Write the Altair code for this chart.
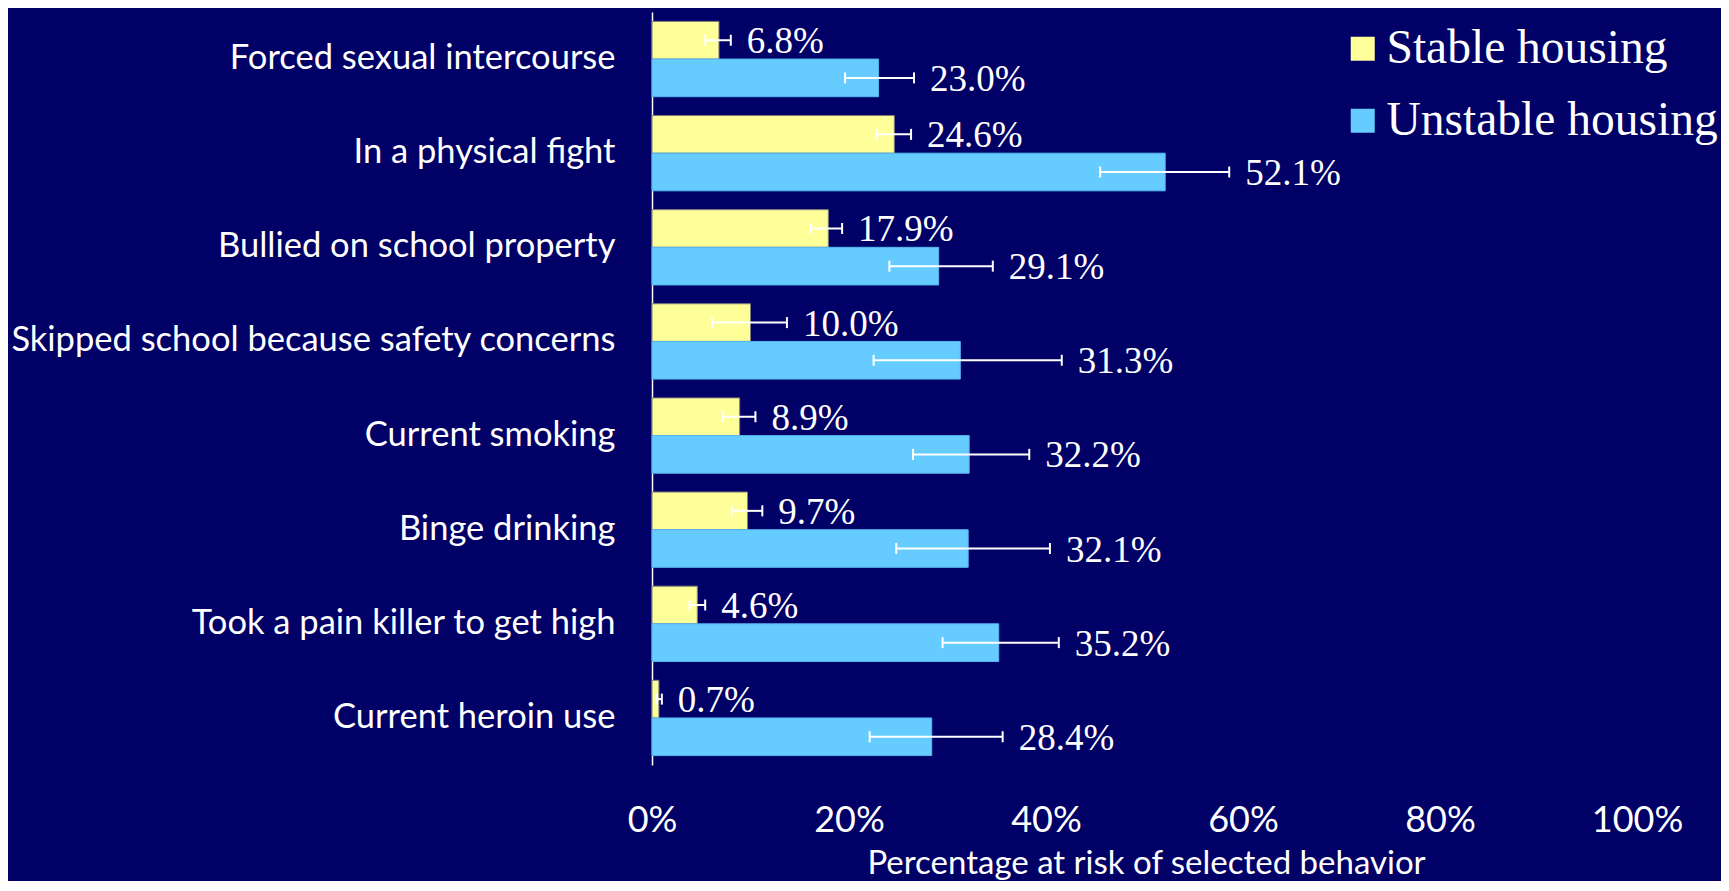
import altair as alt
import pandas as pd

categories = [
    "Forced sexual intercourse",
    "In a physical fight",
    "Bullied on school property",
    "Skipped school because safety concerns",
    "Current smoking",
    "Binge drinking",
    "Took a pain killer to get high",
    "Current heroin use",
]
series = ["Stable housing", "Unstable housing"]

stable = [6.8, 24.6, 17.9, 10.0, 8.9, 9.7, 4.6, 0.7]
stable_lo = [5.4, 22.8, 16.1, 6.1, 7.2, 8.1, 3.8, 0.5]
stable_hi = [8.0, 26.3, 19.3, 13.7, 10.5, 11.2, 5.4, 1.0]

unstable = [23.0, 52.1, 29.1, 31.3, 32.2, 32.1, 35.2, 28.4]
unstable_lo = [19.6, 45.5, 24.1, 22.5, 26.5, 24.8, 29.5, 22.1]
unstable_hi = [26.6, 58.6, 34.6, 41.6, 38.3, 40.4, 41.3, 35.6]

x_ticks = [0, 20, 40, 60, 80, 100]

rows = []
for i, c in enumerate(categories):
    rows.append({"category": c, "series": series[0], "value": stable[i],
                 "lo": stable_lo[i], "hi": stable_hi[i], "label": f"{stable[i]:.1f}%"})
    rows.append({"category": c, "series": series[1], "value": unstable[i],
                 "lo": unstable_lo[i], "hi": unstable_hi[i], "label": f"{unstable[i]:.1f}%"})
df = pd.DataFrame(rows)

YELLOW = "#FFFF99"
BLUE = "#66CCFF"
BG = "#000066"

y_enc = alt.Y(
    "category:N",
    sort=categories,
    scale=alt.Scale(paddingInner=0.2, paddingOuter=0.1),
    axis=alt.Axis(
        title=None,
        domain=True,
        domainColor="white",
        domainWidth=1.5,
        ticks=False,
        grid=False,
        labelFont="Lato",
        labelFontSize=34.5,
        labelColor="white",
        labelPadding=37,
        labelLimit=0,
    ),
)
yoff_enc = alt.YOffset("series:N", sort=series,
                       scale=alt.Scale(paddingInner=0, paddingOuter=0))

x_scale = alt.Scale(domain=[0, 100], nice=False)

base = alt.Chart(df).encode(y=y_enc, yOffset=yoff_enc)

bars = base.mark_bar(strokeWidth=1).encode(
    x=alt.X(
        "value:Q",
        scale=x_scale,
        axis=alt.Axis(
            values=x_ticks,
            labelExpr="datum.value + '%'",
            domain=False,
            ticks=False,
            grid=False,
            labelFont="Lato",
            labelFontSize=36,
            labelColor="white",
            labelPadding=38,
            labelFlush=False,
            labelOverlap=False,
            title="Percentage at risk of selected behavior",
            titleFont="Lato",
            titleFontSize=33,
            titleFontWeight="normal",
            titleColor="white",
            titleX=494,
            titleY=108,
            titleAlign="center",
            titleBaseline="alphabetic",
        ),
    ),
    color=alt.Color(
        "series:N",
        sort=series,
        scale=alt.Scale(domain=series, range=[YELLOW, BLUE]),
        legend=alt.Legend(
            title=None,
            orient="none",
            legendX=687,
            legendY=13,
            symbolType="square",
            symbolSize=576,
            symbolStrokeWidth=0,
            symbolOpacity=1,
            labelFont="Liberation Serif",
            labelFontSize=47.5,
            labelColor="white",
            labelOffset=0,
            rowPadding=23,
            padding=0,
            labelLimit=0,
        ),
    ),
    stroke=alt.condition(alt.datum.series == series[0],
                         alt.value("#7f7f7f"), alt.value("#55b5ee")),
)

rules = base.mark_rule(color="white", strokeWidth=2).encode(
    x=alt.X("lo:Q", scale=x_scale), x2="hi:Q"
)
caps_lo = base.mark_tick(color="white", thickness=2, size=11, opacity=1).encode(
    x=alt.X("lo:Q", scale=x_scale)
)
caps_hi = base.mark_tick(color="white", thickness=2, size=11, opacity=1).encode(
    x=alt.X("hi:Q", scale=x_scale)
)
labels = base.mark_text(
    align="left", baseline="middle", dx=16, dy=2,
    font="Liberation Serif", fontSize=37, color="white",
).encode(x=alt.X("hi:Q", scale=x_scale), text="label:N")

chart = (
    alt.layer(bars, rules, caps_lo, caps_hi, labels)
    .properties(
        width=985,
        height=753,
        padding={"left": 644, "top": 4, "right": 84, "bottom": 116},
        autosize=alt.AutoSizeParams(type="none"),
        background=BG,
    )
    .configure_view(stroke=None)
)

chart.save("out.html", embed_options={"renderer": "svg", "actions": False})
